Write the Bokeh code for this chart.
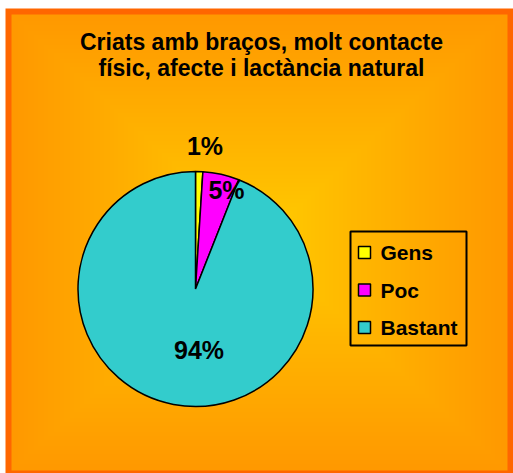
import numpy as np
from bokeh.plotting import figure
from bokeh.models import Range1d, ColumnDataSource
from bokeh.core.properties import value
from bokeh.embed import file_html
from bokeh.resources import INLINE

# ---- data ----
categories = ["Gens", "Poc", "Bastant"]
percentages = [1, 5, 94]
colors = ["#FFFF00", "#FF00FF", "#33CCCC"]
title_lines = ["Criats amb braços, molt contacte", "físic, afecte i lactància natural"]

# ---- layout constants ----
W, H = 513, 473
FONT = value("Liberation Sans")
cx, cy, rad = 195, 184.5, 117.5
# label anchor positions (layout)
label_pos_x = [204.5, 226, 198.5]
label_pos_y = [327.5, 284, 124]

p = figure(width=W, height=H, output_backend="svg", toolbar_location=None,
           x_range=Range1d(0, W), y_range=Range1d(0, H), min_border=0,
           x_axis_location=None, y_axis_location=None)
p.grid.visible = False
p.outline_line_color = None
p.background_fill_color = "white"
p.border_fill_color = "white"

# ---- chart area border ----
p.quad(left=5, right=W + 2, top=H - 8, bottom=-2, fill_color="#FF6600",
       line_color=None)

# ---- background gradient (decoration) ----
x0, y0, x1, y1 = 11, 3, 507, 459
nx, ny = 248, 228
xs = np.linspace(-1, 1, nx)
ys = np.linspace(-1, 1, ny)
X, Y = np.meshgrid(xs, ys)
t = np.maximum(np.abs(X), np.abs(Y)) ** 0.9
c0 = np.array([255, 206, 0], dtype=float)
c1 = np.array([255, 153, 0], dtype=float)
rgb = c0 + (c1 - c0) * t[..., None]
img = np.empty((ny, nx), dtype=np.uint32)
view = img.view(dtype=np.uint8).reshape((ny, nx, 4))
view[..., 0:3] = np.clip(rgb, 0, 255).astype(np.uint8)
view[..., 3] = 255
p.image_rgba(image=[img], x=x0, y=y0, dw=x1 - x0, dh=y1 - y0)

# ---- title ----
p.text(x=[261, 261], y=[432, 406], text=title_lines, text_font=FONT,
       text_font_style="bold", text_font_size="23px", text_align="center",
       text_baseline="alphabetic", text_color="black")

# ---- pie ----
frac = np.array(percentages, dtype=float) / sum(percentages)
cum = np.concatenate([[0.0], np.cumsum(frac)])
start = np.pi / 2 - cum[:-1] * 2 * np.pi
end = np.pi / 2 - cum[1:] * 2 * np.pi
src = ColumnDataSource(dict(start=start, end=end, color=colors, cat=categories))
p.wedge(x=cx, y=cy, radius=rad, start_angle="start", end_angle="end",
        direction="clock", fill_color="color", line_color="black",
        line_width=1.5, source=src)

# ---- percentage labels ----
p.text(x=label_pos_x, y=label_pos_y, text=[f"{v}%" for v in percentages],
       text_font=FONT, text_font_style="bold", text_font_size="25px",
       text_align="center", text_baseline="middle", text_color="black")

# ---- legend (custom) ----
leg_left, leg_right, leg_top, leg_bottom = 350, 466, 242, 128
p.quad(left=leg_left, right=leg_right, top=leg_top, bottom=leg_bottom,
       fill_color=None, line_color="black", line_width=2)
row_y = [leg_top - 21 - i * 37.5 for i in range(len(categories))]
p.scatter(x=[364] * len(categories), y=row_y, marker="square", size=12,
          fill_color=colors, line_color="black", line_width=1.5)
p.text(x=[380] * len(categories), y=row_y, text=categories, text_font=FONT,
       text_font_style="bold", text_font_size="21px", text_align="left",
       text_baseline="middle", text_color="black")

open("out.html", "w").write(file_html(p, INLINE))
